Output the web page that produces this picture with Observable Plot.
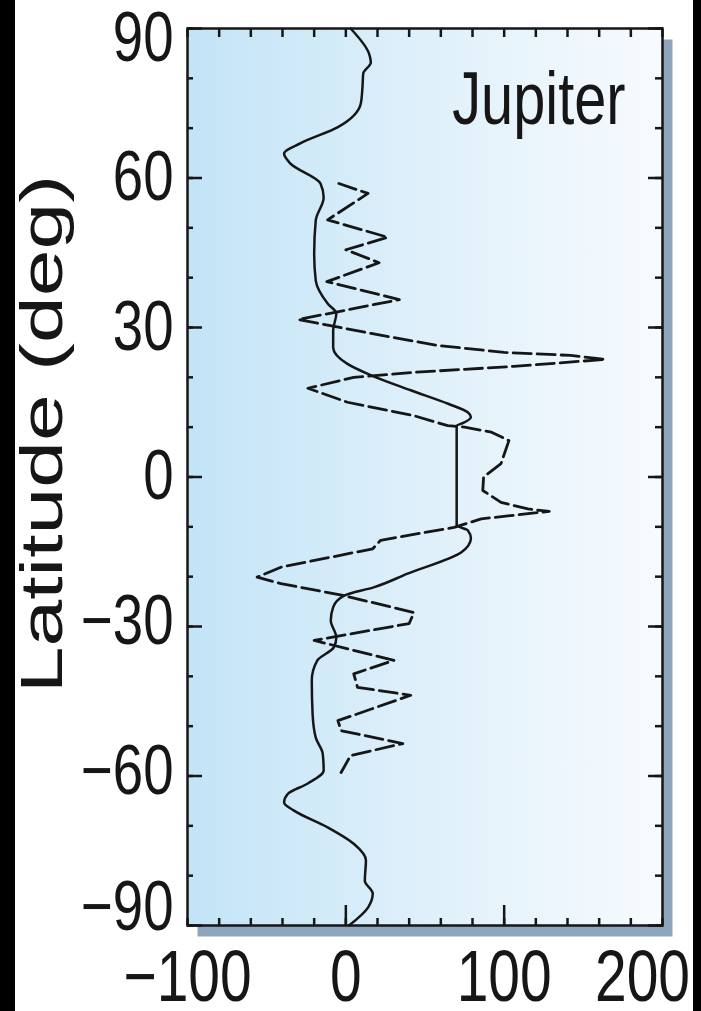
<!DOCTYPE html>
<html><head><meta charset="utf-8">
<script src="https://cdn.jsdelivr.net/npm/d3@7"></script>
<script src="https://cdn.jsdelivr.net/npm/@observablehq/plot@0.6"></script>
<style>
html,body{margin:0;padding:0;background:#fff;}
#chart svg{display:block;}
</style></head><body><div id="chart"></div>
<script>
// ---- data ----
const solidLat = [90, 85, 83.2, 81, 78.2, 75, 70.2, 67, 64.9, 62.9, 58.9, 56.1, 51.5, 44.8, 39.4, 34.8, 32.8, 29.4, 26, 22.7, 20.4, 17.4, 14.7, 13, 12, 10.7, 10.3,
  -9.7, -10.7, -12.3, -15.1, -19.4, -22.1, -23.8, -26.1, -28.8, -32.2, -34.2, -36.8, -40.8, -47.5, -52.3, -55.5, -58.9, -61.5, -63.6, -65.3, -66.9, -70.3, -73.6, -76.9, -81, -83.6, -86.4, -90];
const solidU = [3, 14.6, 15.8, 11, 10.5, 9.5, -5, -28.5, -39, -35, -16, -14, -19, -20, -19, -11.5, -6, -8, -8, 1, 16, 41, 64.6, 77, 79, 73, 70,
  70, 77, 79, 73, 39, 18, -1, -8, -9.5, -6, -7.6, -18, -21.5, -21, -19, -14.6, -14, -24, -36.7, -39, -33, -11.5, 5, 12.7, 12, 17, 14, 2];

const dashLat = [58.9, 56.9, 51.6, 48.1, 45.6, 43, 39.2, 35.6, 31.6, 28.8, 26.4, 25, 24.4, 23.6, 22.2, 21, 20, 17.8, 15, 12.3, 10.3, 10, 9, 7.3, 2.7, 0, -2.7, -5.1, -6.4, -6.9,
  -8.4, -10.1, -12.7, -14.4, -16.1, -18.1, -20.1, -21.4, -23.8, -27.2, -29.4, -32.8, -36.8, -39.5, -42.2, -43.8, -48.9, -50.9, -53.5, -55.9, -59.3];
const dashU = [-4.4, 14, -11.5, 26.5, 0, 21, -12, 33.8, -30, 16, 58, 100, 142, 164, 106, 43, 5, -24, 1, 43, 64.4, 75, 92, 103, 98, 87, 86.5, 98, 115, 128.5,
  85.5, 68.4, 22, 17, -9.5, -41, -56, -41, -1.3, 43, 40, -20, 30.4, 5, 7.4, 41, -5, -3, 36, 3, -3];

const xTickValues = [-100, 0, 100, 200];
const xTickLabels = ["−100", "0", "100", "200"];
const yTickValues = [-90, -60, -30, 0, 30, 60, 90];
const yTickLabels = ["−90", "−60", "−30", "0", "30", "60", "90"];
const xMinorTicks = [-100, -80, -60, -40, -20, 0, 20, 40, 60, 80, 100, 120, 140, 160, 180, 200];
const xMajorTicks = [0, 100];
const yMinorTicks = [-90, -80, -70, -60, -50, -40, -30, -20, -10, 0, 10, 20, 30, 40, 50, 60, 70, 80, 90];
const yMajorTicks = [-90, -60, -30, 0, 30, 60, 90];
const planetName = "Jupiter";
const yTitle = "Latitude (deg)";

// ---- build ----
const solid = solidLat.map((lat, i) => ({lat, u: solidU[i]}));
const dashed = dashLat.map((lat, i) => ({lat, u: dashU[i]}));
const ink = "#161616";
const tickW = 2.5;
const fmtX = d => xTickLabels[xTickValues.indexOf(d)];
const fmtY = d => yTickLabels[yTickValues.indexOf(d)];
const blank = () => "";

const plot = Plot.plot({
  width: 701, height: 1011,
  marginTop: 28, marginRight: 39, marginBottom: 86, marginLeft: 187,
  style: {background: "transparent", fontFamily: "'Liberation Sans', Arial, Helvetica, sans-serif", color: ink},
  x: {domain: [-100, 200]},
  y: {domain: [-90, 90]},
  marks: [
    Plot.frame({fill: "#8ea5bd", dx: 10, dy: 11}),
    Plot.frame({fill: "url(#bgGrad)"}),
    Plot.line(solid, {x: "u", y: "lat", curve: "monotone-y", stroke: ink, strokeWidth: 2.5}),
    Plot.line(dashed, {x: "u", y: "lat", stroke: ink, strokeWidth: 2.8, strokeDasharray: "18,6"}),
    // inward ticks
    Plot.axisY({anchor: "left", ticks: yMinorTicks, tickSize: -6, tickFormat: blank, label: null, strokeWidth: tickW}),
    Plot.axisY({anchor: "left", ticks: yMajorTicks, tickSize: -15, tickFormat: blank, label: null, strokeWidth: tickW}),
    Plot.axisY({anchor: "right", ticks: yMinorTicks, tickSize: -8, tickFormat: blank, label: null, strokeWidth: tickW}),
    Plot.axisY({anchor: "right", ticks: yMajorTicks, tickSize: -15, tickFormat: blank, label: null, strokeWidth: tickW}),
    Plot.axisX({anchor: "top", ticks: xMinorTicks, tickSize: -8, tickFormat: blank, label: null, strokeWidth: tickW}),
    Plot.axisX({anchor: "bottom", ticks: xMinorTicks, tickSize: -7, tickFormat: blank, label: null, strokeWidth: tickW}),
    Plot.axisX({anchor: "bottom", ticks: xMajorTicks, tickSize: -20, tickFormat: blank, label: null, strokeWidth: tickW}),
    // tick labels
    Plot.axisY({anchor: "left", ticks: yTickValues, tickSize: 0, tickPadding: 14, tickFormat: fmtY, label: null, fontSize: 70}),
    Plot.axisX({anchor: "bottom", ticks: xTickValues, tickSize: 0, tickPadding: 24, tickFormat: fmtX, label: null, fontSize: 73}),
    Plot.frame({stroke: ink, strokeWidth: 2.5}),
    Plot.text([planetName], {text: d => d, frameAnchor: "top-right", textAnchor: "end", lineAnchor: "top", dx: -37, dy: 43, fontSize: 74, fill: ink}),
    Plot.text([yTitle], {text: d => d, frameAnchor: "left", rotate: -90, textAnchor: "middle", lineAnchor: "middle", dx: -145, dy: -43, fontSize: 60, fill: ink})
  ]
});
document.getElementById("chart").appendChild(plot);

// gradient + side strips
const svg = d3.select(plot);
const defs = svg.insert("defs", ":first-child");
const lg = defs.append("linearGradient").attr("id", "bgGrad").attr("x1", 0).attr("x2", 1).attr("y1", 0).attr("y2", 0);
lg.append("stop").attr("offset", "0%").attr("stop-color", "#c2e4f7");
lg.append("stop").attr("offset", "50%").attr("stop-color", "#dff0fa");
lg.append("stop").attr("offset", "100%").attr("stop-color", "#f7fbfe");
const firstG = plot.querySelector("g");
[[0, 15], [693, 8]].forEach(([x, w]) => {
  const r = document.createElementNS("http://www.w3.org/2000/svg", "rect");
  r.setAttribute("x", x); r.setAttribute("y", 0); r.setAttribute("width", w); r.setAttribute("height", 1011);
  r.setAttribute("fill", "#000");
  plot.insertBefore(r, firstG);
});

// horizontal compression of the (vertically stretched) lettering
function reshape(t, sx, sy, pre) {
  let tr = t.getAttribute("transform");
  if (!tr) {
    const x = t.getAttribute("x") || 0, y = t.getAttribute("y") || 0;
    tr = `translate(${x},${y})`;
    t.removeAttribute("x"); t.removeAttribute("y");
  }
  t.setAttribute("transform", (pre || "") + tr + ` scale(${sx},${sy})`);
}
const shiftY = {"90": 10, "−90": -18, "−60": -4, "−30": -5};
plot.querySelectorAll("text").forEach(t => {
  const s = t.textContent;
  if (s === "") return;
  if (s === yTitle) reshape(t, 1.4, 1);
  else if (s === "200") reshape(t, 0.78, 1, "translate(-20,0) ");
  else if (s in shiftY) reshape(t, 0.78, 1, `translate(0,${shiftY[s]}) `);
  else reshape(t, 0.78, 1);
});
</script>
</body></html>
